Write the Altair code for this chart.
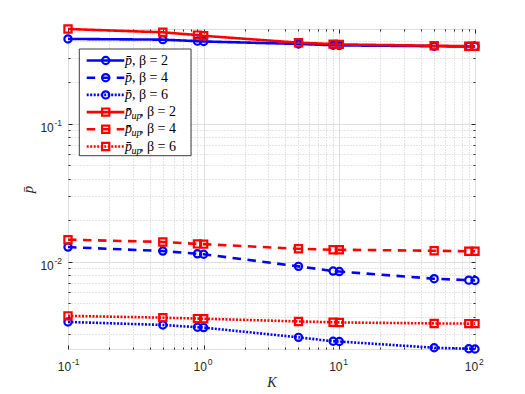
import altair as alt
import pandas as pd

# ---- data ----
K = [0.1, 0.5, 0.9, 1, 5, 9, 10, 50, 90, 100]
p_beta2 = [0.411, 0.406, 0.396, 0.394, 0.378, 0.370, 0.369, 0.364, 0.362, 0.362]
p_beta4 = [0.01276, 0.01194, 0.01140, 0.01132, 0.00925, 0.00855, 0.00848, 0.00753, 0.00735, 0.00730]
p_beta6 = [0.00366, 0.00348, 0.00335, 0.00333, 0.00283, 0.00265, 0.00264, 0.00238, 0.00234, 0.00233]
pup_beta2 = [0.485, 0.459, 0.438, 0.433, 0.386, 0.377, 0.375, 0.367, 0.364, 0.364]
pup_beta4 = [0.01443, 0.0139, 0.01345, 0.0134, 0.0124, 0.0122, 0.0122, 0.0120, 0.0119, 0.0119]
pup_beta6 = [0.00405, 0.00393, 0.00387, 0.00386, 0.00369, 0.00364, 0.00363, 0.00357, 0.00356, 0.00356]

series = ["p_b2", "p_b4", "p_b6", "pup_b2", "pup_b4", "pup_b6"]
betas = ["2", "4", "6", "2", "4", "6"]
values = [p_beta2, p_beta4, p_beta6, pup_beta2, pup_beta4, pup_beta6]

x_major = [0.1, 1, 10, 100]
x_minor = [0.2, 0.3, 0.4, 0.5, 0.6, 0.7, 0.8, 0.9,
           2, 3, 4, 5, 6, 7, 8, 9,
           20, 30, 40, 50, 60, 70, 80, 90]
y_major = [0.01, 0.1]
y_minor = [0.003, 0.004, 0.005, 0.006, 0.007, 0.008, 0.009,
           0.02, 0.03, 0.04, 0.05, 0.06, 0.07, 0.08, 0.09,
           0.2, 0.3, 0.4]

# ---- styles ----
colors = ["#0000ff", "#0000ff", "#0000ff", "#ff0000", "#ff0000", "#ff0000"]
dashes = [[1, 0], [8.5, 6.5], [2, 1.5], [1, 0], [8.5, 6.5], [2, 1.5]]
shapes = ["circle", "circle", "circle", "square", "square", "square"]
sizes = [52, 52, 52, 40, 40, 40]
mstrokes = [2.2, 2.2, 2.2, 2.7, 2.7, 2.7]
AXC = "#262626"
W, H = 407, 320

rows = []
for s, vals in zip(series, values):
    for k, v in zip(K, vals):
        rows.append({"K": k, "p": v, "series": s})
df = pd.DataFrame(rows)

leg = pd.DataFrame({"series": series, "row": list(range(6)), "beta": betas})
leg["rest"] = ", β = " + leg["beta"]

xscale = alt.Scale(type="log", domain=[0.1, 100], nice=False)
yscale = alt.Scale(type="log", domain=[0.00233, 0.485], nice=False)
cscale = alt.Scale(domain=series, range=colors)
dscale = alt.Scale(domain=series, range=dashes)
shscale = alt.Scale(domain=series, range=shapes)
szscale = alt.Scale(domain=series, range=sizes)
swscale = alt.Scale(domain=series, range=mstrokes)


def ax(orient, vals, size, labels=False, **kw):
    base = dict(orient=orient, values=vals, domain=False, grid=False,
                tickColor=AXC, tickWidth=1, tickSize=size, offset=-size,
                labels=labels, title=None, labelFlush=False, labelOverlap=False)
    base.update(kw)
    return alt.Axis(**base)


lab = dict(labelFont="Liberation Sans", labelColor=AXC)

# bottom / left major ticks + "10" labels
xa1 = ax("bottom", x_major, 4, labels=True, labelExpr="'10'", labelFontSize=12,
         labelBaseline="middle", labelPadding=17.7, labelOffset=-4, **lab)
ya1 = ax("left", y_major, 4, labels=True, labelExpr="'10'", labelFontSize=12,
         labelBaseline="middle", labelPadding=14.7, labelOffset=3.5, **lab)
# minor ticks + dotted grid
xa2 = ax("bottom", x_minor, 2, grid=True, gridColor="#c8c8c8", gridDash=[1, 2], gridWidth=1)
ya2 = ax("left", y_minor, 2, grid=True, gridColor="#c8c8c8", gridDash=[1, 2], gridWidth=1)
# top / right
xa3 = ax("top", x_major, 4)
ya3 = ax("right", y_major, 4)
xa4 = ax("top", x_minor, 2)
ya4 = ax("right", y_minor, 2)
# exponents + major grid + titles
expo = "'' + round(log(datum.value) / LN10)"
xa5 = alt.Axis(orient="bottom", values=x_major, domain=False, ticks=False, tickSize=0,
               labelExpr=expo, labelFontSize=8.5, labelAlign="left", labelBaseline="middle",
               labelPadding=12.4, labelOffset=3.5, labelFlush=False, labelOverlap=False,
               grid=True, gridColor="#dedede", gridWidth=1,
               title="K", titleFont="Liberation Serif", titleFontStyle="italic",
               titleFontWeight="normal", titleFontSize=14, titleColor=AXC,
               titleX=W / 2, titleY=33, titleBaseline="middle", **lab)
ya5 = alt.Axis(orient="left", values=y_major, domain=False, ticks=False, tickSize=0,
               labelExpr=expo, labelFontSize=8.5, labelAlign="left", labelBaseline="middle",
               labelPadding=14, labelOffset=-1, labelFlush=False, labelOverlap=False,
               grid=True, gridColor="#dedede", gridWidth=1,
               title="p̄", titleFont="Liberation Serif", titleFontStyle="italic",
               titleFontWeight="normal", titleFontSize=15, titleColor=AXC,
               titleX=-41, titleY=H / 2, titleBaseline="middle", **lab)

base = alt.Chart(df)


def xy(xa, ya):
    return dict(x=alt.X("K:Q", scale=xscale, axis=xa),
                y=alt.Y("p:Q", scale=yscale, axis=ya))


lines = base.mark_line(strokeWidth=2.6).encode(
    **xy(xa1, ya1),
    color=alt.Color("series:N", scale=cscale, legend=None),
    strokeDash=alt.StrokeDash("series:N", scale=dscale, legend=None),
)
points = base.mark_point(filled=False, opacity=1).encode(
    **xy(xa2, ya2),
    color=alt.Color("series:N", scale=cscale, legend=None),
    shape=alt.Shape("series:N", scale=shscale, legend=None),
    size=alt.Size("series:N", scale=szscale, legend=None),
    strokeWidth=alt.StrokeWidth("series:N", scale=swscale, legend=None),
)
inv3 = base.mark_point(opacity=0).encode(**xy(xa3, ya3))
inv4 = base.mark_point(opacity=0).encode(**xy(xa4, ya4))
inv5 = base.mark_point(opacity=0).encode(**xy(xa5, ya5))

# ---- legend ----
lrow = alt.Y("row:Q", scale=alt.Scale(domain=[0, 5], range=[31.5, 117.5]), axis=None)
lbox = alt.Chart(pd.DataFrame({"a": [0]})).mark_rect(
    fill="white", stroke=AXC, strokeWidth=0.9
).encode(x=alt.value(11.3), x2=alt.value(123), y=alt.value(20), y2=alt.value(126.7))
lline = alt.Chart(leg).mark_rule(strokeWidth=2.6).encode(
    x=alt.value(18.7), x2=alt.value(56.3), y=lrow,
    color=alt.Color("series:N", scale=cscale, legend=None),
    strokeDash=alt.StrokeDash("series:N", scale=dscale, legend=None),
)
lpt = alt.Chart(leg).mark_point(filled=False, opacity=1).encode(
    x=alt.value(37.7), y=lrow,
    color=alt.Color("series:N", scale=cscale, legend=None),
    shape=alt.Shape("series:N", scale=shscale, legend=None),
    size=alt.Size("series:N", scale=szscale, legend=None),
    strokeWidth=alt.StrokeWidth("series:N", scale=swscale, legend=None),
)
tfont = dict(font="Liberation Serif", fontSize=14, color="black", baseline="middle", align="left")
lp = alt.Chart(leg).mark_text(fontStyle="italic", **tfont).encode(
    x=alt.value(57), y=lrow, text=alt.value("p̄"))
lsub = alt.Chart(leg).transform_filter("datum.row >= 3").mark_text(
    fontStyle="italic", dy=4, **{**tfont, "fontSize": 10}).encode(
    x=alt.value(63.5), y=lrow, text=alt.value("up"))
lrest1 = alt.Chart(leg).transform_filter("datum.row < 3").mark_text(**tfont).encode(
    x=alt.value(64), y=lrow, text="rest:N")
lrest2 = alt.Chart(leg).transform_filter("datum.row >= 3").mark_text(**tfont).encode(
    x=alt.value(72), y=lrow, text="rest:N")

chart = alt.layer(
    inv5, inv3, inv4, lines, points, lbox, lline, lpt, lp, lsub, lrest1, lrest2
).resolve_scale(
    x="independent", y="independent"
).resolve_axis(
    x="independent", y="independent"
).properties(
    width=W, height=H,
    padding={"left": 60, "top": 21, "right": 30, "bottom": 40},
    autosize="none",
).configure_view(
    stroke=AXC, strokeWidth=1
).configure(background="white")

chart.save("out.html", embed_options={"renderer": "svg", "actions": False})
